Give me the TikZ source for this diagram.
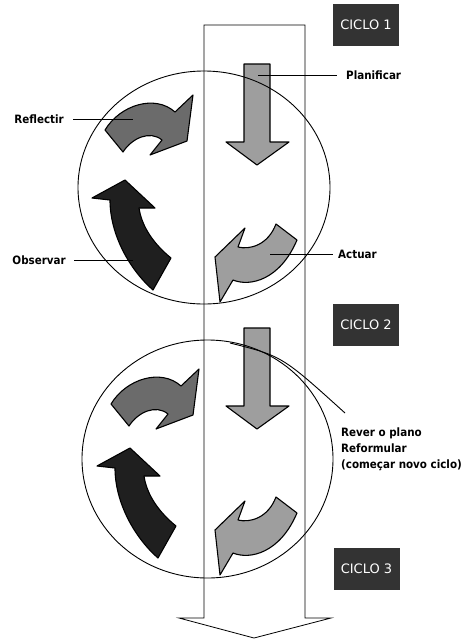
\documentclass[tikz,border=0pt]{standalone}
\usepackage{fontspec}
\newfontfamily\lblfont{DejaVu Sans Condensed}
\newfontfamily\boxfont{DejaVu Sans}
\usetikzlibrary{positioning}
\definecolor{darkfill}{gray}{0.12}
\definecolor{midfill}{gray}{0.42}
\definecolor{lightfill}{gray}{0.62}
\definecolor{boxfill}{gray}{0.2}
\tikzset{
    lbltext/.style={font=\lblfont\bfseries\fontsize{11.5}{16}\selectfont, inner sep=0pt, align=left},
    cyclebox/.style={rectangle, fill=boxfill, text=white, font=\boxfont\fontsize{13}{15}\selectfont, minimum width=66pt, minimum height=42pt, inner sep=0pt},
    leader/.style={line width=0.9pt},
    ring/.style={line width=0.9pt},
    bigarrow/.style={line width=0.8pt},
    solid shape/.style={draw, line width=1.1pt, line join=round},
    plan/.pic={
        \draw[solid shape, fill=lightfill] (244,64) -- (270,64) -- (270,142) -- (289,142) -- (257,165) -- (226,142) -- (244,142) -- cycle;
        \coordinate (-lead) at (258,75);
    },
    reflect/.pic={
        \draw[solid shape, fill=midfill] (105,130) .. controls (120,105) and (155,94) .. (175,112) -- (193,95) -- (187,141) -- (150,155) -- (162,140)
            .. controls (150,130) and (132,138) .. (123,152) -- cycle;
        \coordinate (-lead) at (133,119);
    },
    observe/.pic={
        \draw[solid shape, fill=darkfill] (125,180) -- (155,208) -- (139,208) .. controls (142,228) and (155,245) .. (171,258) -- (153,290)
            .. controls (130,270) and (110,235) .. (110,200) -- (92,198) -- cycle;
        \coordinate (-lead) at (133,260);
    },
    act/.pic={
        \draw[solid shape, fill=lightfill] (245,228) -- (215,257) -- (220,302) -- (233,280) .. controls (250,287) and (280,280) .. (297,240) -- (276,224)
            .. controls (268,245) and (250,250) .. (238,247) -- cycle;
        \coordinate (-lead) at (270,254);
    }
}

\begin{document}
\begin{tikzpicture}[x=1pt, y=-1pt]
\useasboundingbox (0,0) rectangle (472,641);

% cycle 1
\pic (p1) at (0,0) {plan};
\pic (r1) at (0,0) {reflect};
\pic (o1) at (0,0) {observe};
\pic (a1) at (0,0) {act};

% cycle 2
\pic (p2) at (0,264) {plan};
\pic (r2) at (6,274) {reflect};
\pic (o2) at (5,268) {observe};
\pic (a2) at (0,273) {act};

\draw[ring] (204,187.5) ellipse [x radius=126pt, y radius=116.5pt];
\draw[ring] (207.5,459) ellipse [x radius=125.5pt, y radius=119pt];

\draw[bigarrow] (204,25) -- (305,25) -- (305,618) -- (331,618) -- (254,638) -- (179,618) -- (204,618) -- cycle;

\node[cyclebox] (C1) at (366,25) {CICLO 1};
\node[cyclebox] (C2) at (366,325) {CICLO 2};
\node[cyclebox] (C3) at (366.5,568.5) {CICLO 3};

\node[lbltext, anchor=east] (refl) at (64,119) {Reflectir};
\node[lbltext, anchor=west] (plan) at (346,75) {Planificar};
\node[lbltext, anchor=west] (actu) at (338,254) {Actuar};
\node[lbltext, anchor=east] (obs) at (66,260) {Observar};
\node[lbltext, anchor=north west] (rever) at (341,428) {Rever o plano\\Reformular\\(começar novo ciclo)};
\coordinate (revstart) at (230,343);

\draw[leader] ([xshift=9pt]refl.east) -- (r1-lead);
\draw[leader] (p1-lead) -- ([xshift=-9pt]plan.west);
\draw[leader] (a1-lead) -- ([xshift=-5pt]actu.west);
\draw[leader] ([xshift=8pt]obs.east) -- (o1-lead);
\draw[leader] (revstart) .. controls (282,356) .. ([shift={(4pt,15pt)}]rever.north west);

\end{tikzpicture}
\end{document}
